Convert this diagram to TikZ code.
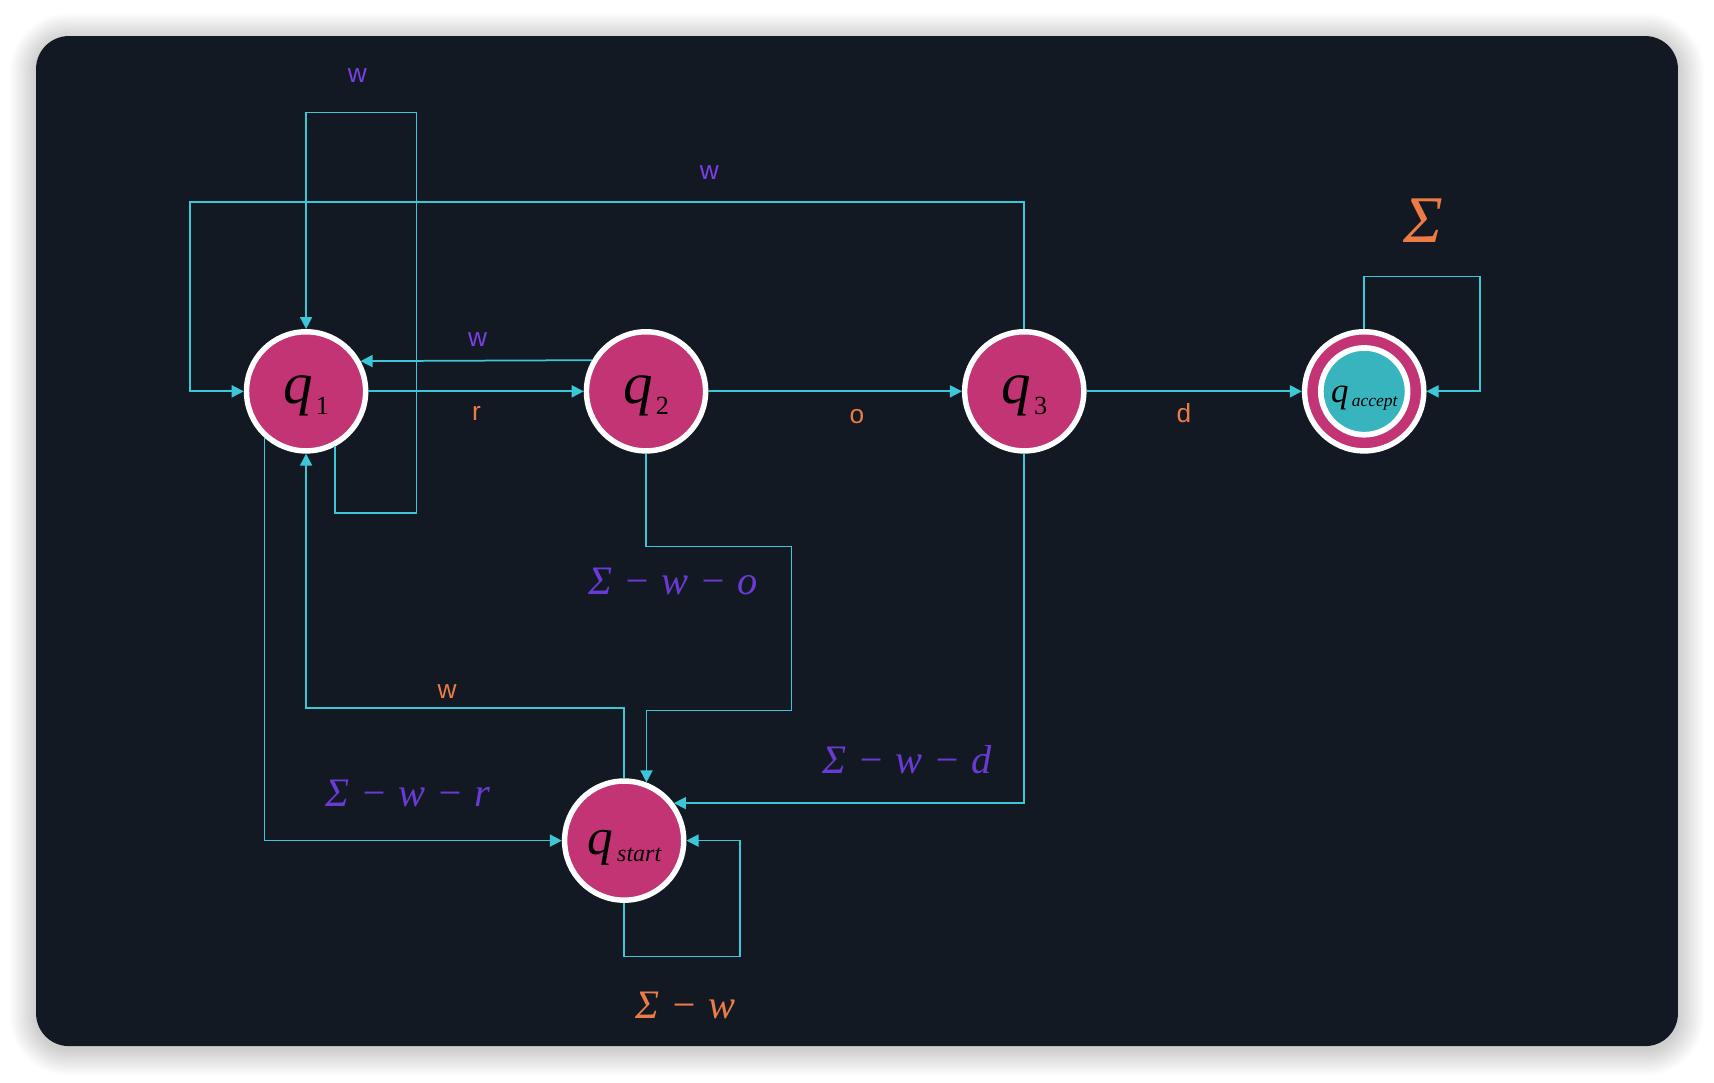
\documentclass[tikz,border=0pt]{standalone}
\usepackage{fontspec}
\setmainfont{Liberation Serif}
\newfontfamily\sansf{Liberation Sans}
\usetikzlibrary{arrows.meta}
\definecolor{bgdark}{HTML}{121923}
\definecolor{nodepink}{HTML}{C33474}
\definecolor{edgecyan}{HTML}{3CC7D7}
\definecolor{tealin}{HTML}{38B4BE}
\definecolor{lblviolet}{HTML}{7B3FE6}
\definecolor{mathviolet}{HTML}{6A3AD4}
\definecolor{lblorange}{HTML}{EC7B45}
\newcommand{\qsub}[1]{{\fontsize{54}{54}\selectfont\itshape q}\kern3pt\raisebox{-10pt}{\fontsize{24}{24}\selectfont #1}}
\newcommand{\gap}{\hspace{10pt}}
\begin{document}
\begin{tikzpicture}[x=1pt,y=-1pt,
  state/.style={circle, fill=nodepink, draw=white, line width=5pt,
    minimum size=109pt, inner sep=0pt, text=black, text height=35pt, text depth=12pt},
  edge/.style={draw=edgecyan, line width=1.6pt, -{Triangle[length=11pt,width=11pt]}},
  sanslbl/.style={font=\sansf\fontsize{24}{24}\selectfont, inner sep=0pt},
  mathlbl/.style={font=\itshape\fontsize{37}{37}\selectfont, inner sep=0pt},
]
\useasboundingbox (0,0) rectangle (1568,990);
\fill[white] (0,0) rectangle (1568,990);
% soft shadow
\foreach \i in {1,...,24}{
  \pgfmathsetmacro{\rr}{30+\i}
  \fill[black, opacity=0.007, rounded corners=\rr pt]
    (33-\i,33-\i+3) rectangle (1535+\i,957+\i+3);
}
\fill[bgdark, rounded corners=30pt] (33,33) rectangle (1535,957);

% states
\node[state] (q1) at (280,358) {\qsub{1}};
\node[state] (q2) at (591,358) {\qsub{2}};
\node[state] (q3) at (937,358) {\qsub{3}};
\node[state, text height=27pt, text depth=7pt,
  path picture={\draw[white, line width=5.2pt, fill=tealin]
    (path picture bounding box.center) circle (39.7pt);}]
  (qa) at (1248,358)
  {{\fontsize{32}{32}\selectfont\itshape q}\kern3pt\raisebox{-4pt}{\fontsize{16}{16}\selectfont\itshape accept}};
\node[state, text height=36pt, text depth=10.6pt] (qs) at (571,769)
  {{\fontsize{47}{47}\selectfont\itshape q}\kern4pt\raisebox{-6pt}{\fontsize{22}{22}\selectfont\itshape start}};

% edges
\draw[edge] (q1.-62.9) |- (381,469) -- (381,103) -| (q1.north);
\draw[edge] (q3.north) |- (174,185) |- (q1.west);
\draw[edge] (q2.150.6) -- (q1.29.4);
\draw[edge] (q1.east) -- (q2.west);
\draw[edge] (q2.east) -- (q3.west);
\draw[edge] (q3.east) -- (qa.west);
\draw[edge] (qa.north) |- (1354,253) |- (qa.east);
\draw[edge] (q2.south) |- (724,500) -- (724,650) -| (qs.69.5);
\draw[edge] (qs.north) |- (280,648) -- (q1.south);
\draw[edge] (q1.228.2) |- (qs.west);
\draw[edge] (q3.south) |- (qs.37.9);
\draw[edge] (qs.south) |- (677,875) |- (qs.east);

% labels
\node[sanslbl, text=lblviolet] (l1) at (327,69) {w};
\node[sanslbl, text=lblviolet] (l2) at (649,158) {w};
\node[sanslbl, text=lblviolet] (l3) at (437,311) {w};
\node[sanslbl, text=lblorange] (l4) at (436,378) {r};
\node[sanslbl, text=lblorange] (l5) at (784,381) {o};
\node[sanslbl, text=lblorange] (l6) at (1083,378) {d};
\node[sanslbl, text=lblorange] (l7) at (409,633) {w};
\node[inner sep=0pt, text=lblorange, font=\itshape\fontsize{61}{61}\selectfont] (l8) at (1302,202) {Σ};
\node[mathlbl, text=mathviolet] (l9) at (616,532) {Σ\gap−\gap w\gap−\gap o};
\node[mathlbl, text=mathviolet] (l10) at (373,726) {Σ\gap−\gap w\gap−\gap r};
\node[mathlbl, text=mathviolet] (l11) at (830,695) {Σ\gap−\gap w\gap−\gap d};
\node[mathlbl, text=lblorange] (l12) at (627,920) {Σ\gap−\gap w};
\end{tikzpicture}
\end{document}
